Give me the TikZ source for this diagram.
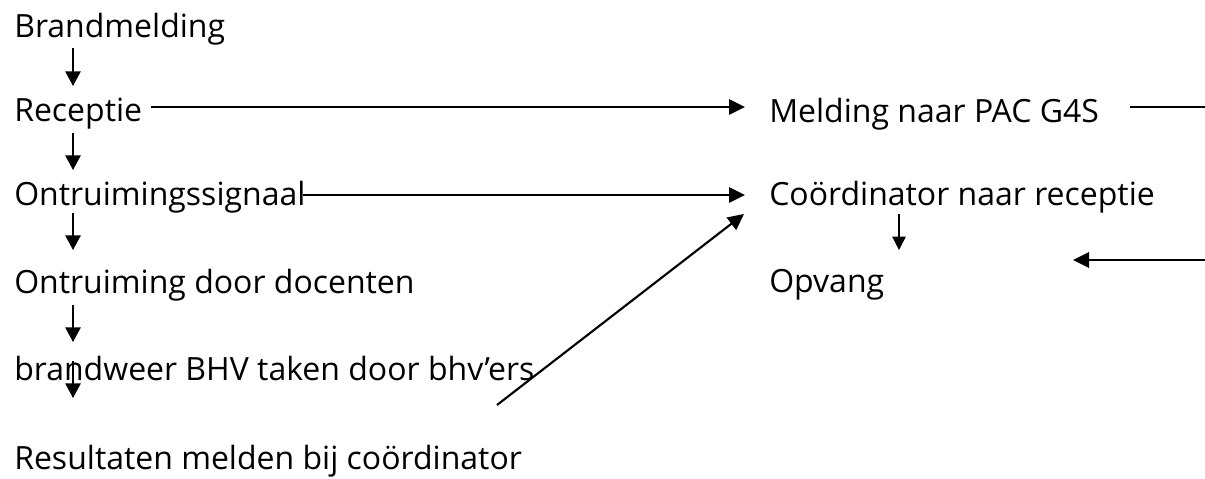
\documentclass[tikz,border=0pt]{standalone}
\usepackage{fontspec}
\setmainfont{Open Sans}
\usetikzlibrary{arrows.meta}
\begin{document}
\begin{tikzpicture}[x=0.75pt,y=-0.75pt,
  txt/.style={anchor=base west, inner sep=0pt, font=\fontsize{24}{29}\selectfont},
  arr/.style={-{Triangle[length=12pt,width=11.5pt]}, line width=1.6pt},
  varr/.style={-{Triangle[length=11pt,width=11.5pt]}, line width=1.2pt},
  sarr/.style={-{Triangle[length=10pt,width=10pt]}, line width=1pt},
  plain/.style={line width=1.2pt}]
\useasboundingbox (0,0) rectangle (1205,478);
% left column
\node[txt] (brand) at (14,38) {Brandmelding};
\node[txt] (recep) at (14,121) {Receptie};
\node[txt] (ontsig) at (14,205) {Ontruimingssignaal};
\node[txt] (ontdoc) at (14,293) {Ontruiming door docenten};
\node[txt] (bhv) at (14,380) {brandweer BHV taken door bhv’ers};
\node[txt] (result) at (14,469) {Resultaten melden bij coördinator};
% right column
\node[txt] (meld) at (769,122) {Melding naar PAC G4S};
\node[txt] (coord) at (769,205) {Coördinator naar receptie};
\node[txt] (opv) at (769,292) {Opvang};
% coordinates
\coordinate (a1s) at (73,48);  \coordinate (a1e) at (73,86);
\coordinate (a2s) at (73,133); \coordinate (a2e) at (73,170);
\coordinate (a3s) at (73,213); \coordinate (a3e) at (73,250);
\coordinate (a4s) at (73,305); \coordinate (a4e) at (73,342);
\coordinate (a5s) at (73,361); \coordinate (a5e) at (73,398);
\coordinate (h1s) at (151,107); \coordinate (h1e) at (745,107);
\coordinate (h2s) at (303,195); \coordinate (h2e) at (745,195);
\coordinate (dgs) at (497,405); \coordinate (dge) at (744,214);
\coordinate (c1s) at (899,214); \coordinate (c1e) at (899,250);
\coordinate (st1) at (1130,107); \coordinate (st2) at (1205,107);
\coordinate (la1) at (1205,260); \coordinate (la2) at (1073,260);
% connectors
\draw[varr] (a1s) -- (a1e);
\draw[varr] (a2s) -- (a2e);
\draw[varr] (a3s) -- (a3e);
\draw[varr] (a4s) -- (a4e);
\draw[varr] (a5s) -- (a5e);
\draw[arr] (h1s) -- (h1e);
\draw[arr] (h2s) -- (h2e);
\draw[arr] (dgs) -- (dge);
\draw[sarr] (c1s) -- (c1e);
\draw[plain] (st1) -- (st2);
\draw[arr] (la1) -- (la2);
\end{tikzpicture}
\end{document}
